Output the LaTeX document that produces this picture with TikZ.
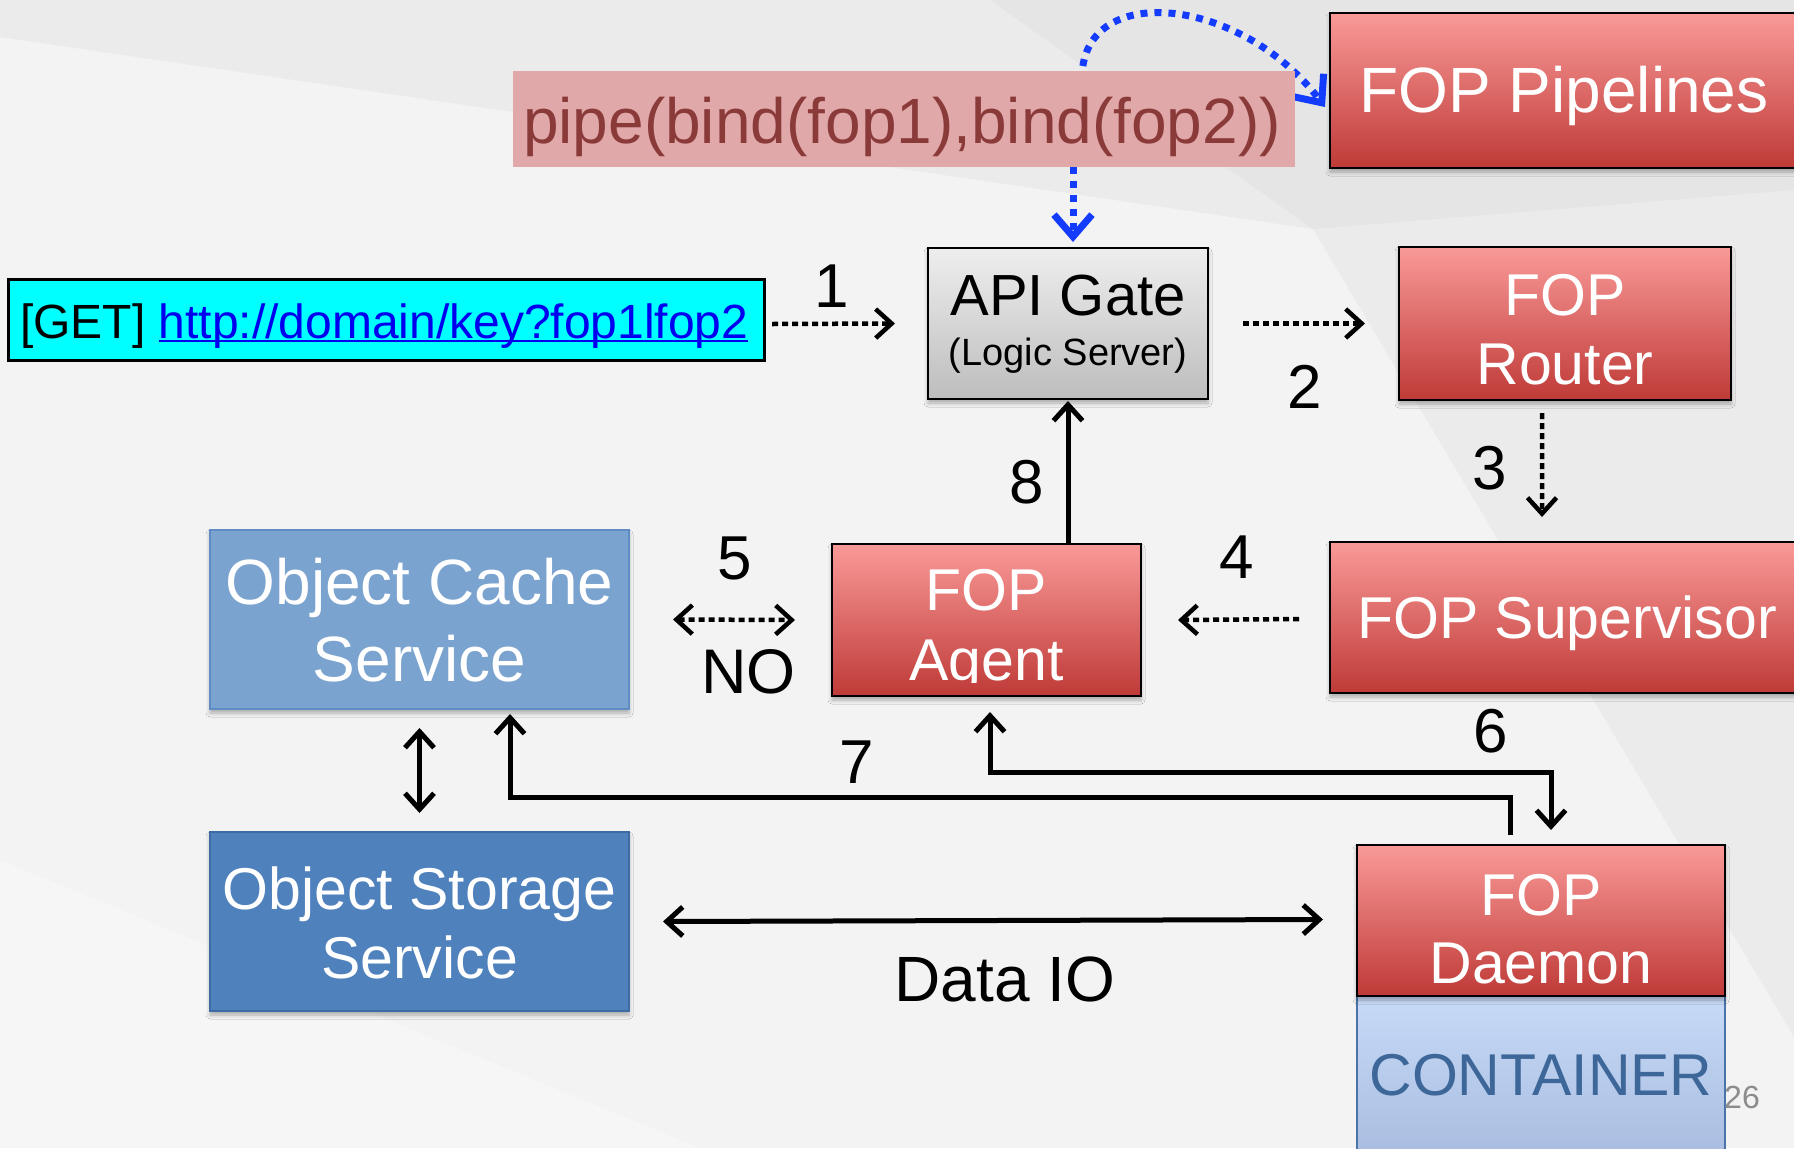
\documentclass[tikz,border=0pt]{standalone}
\usepackage{fontspec}
\setmainfont{Liberation Sans}
\usetikzlibrary{arrows.meta,shadows.blur,calc}

\definecolor{bgmid}{HTML}{F3F3F3}
\definecolor{bglight}{HTML}{F6F6F6}
\definecolor{bgdark}{HTML}{EBEBEB}
\definecolor{bgdeep}{HTML}{E5E5E5}
\definecolor{redtop}{HTML}{F99A98}
\definecolor{redbot}{HTML}{BF3A37}
\definecolor{graytop}{HTML}{EEEEEE}
\definecolor{graybot}{HTML}{BDBDBD}
\definecolor{cachefill}{HTML}{7BA3CF}
\definecolor{cacheline}{HTML}{5F8CC2}
\definecolor{storefill}{HTML}{4F81BD}
\definecolor{storeline}{HTML}{3E6BA2}
\definecolor{conttop}{HTML}{C7DAF7}
\definecolor{contbot}{HTML}{A7BBDF}
\definecolor{contline}{HTML}{4A74A9}
\definecolor{conttext}{HTML}{3E6799}
\definecolor{pipefill}{HTML}{E0A8A8}
\definecolor{pipetext}{HTML}{8B3A3A}
\definecolor{getfill}{HTML}{00FFFF}
\definecolor{linkblue}{HTML}{0000EE}
\definecolor{flowblue}{HTML}{143CFF}
\definecolor{pagenum}{HTML}{8C8C8C}

% font size in big points (1 unit of the picture = 1bp)
\newcommand\fsz[1]{\fontsize{#1bp}{#1bp}\selectfont}
% underline drawn just under the baseline, through the descenders
\newcommand\linkul[1]{\leavevmode\setbox0\hbox{#1}\rlap{\rule[-4bp]{\wd0}{2.2bp}}\box0}

\tikzset{
  chev/.tip={Straight Barb[length=16bp,width=29bp]},
  bchev/.tip={Straight Barb[length=22bp,width=38bp]},
  softshadow/.style={blur shadow={shadow xshift=0bp,shadow yshift=-4bp,
      shadow blur radius=4bp,shadow opacity=30}},
  box/.style={rectangle,inner sep=0pt,outer sep=0pt},
  redbox/.style={box,draw=black,line width=2.5bp,top color=redtop,
      bottom color=redbot,softshadow},
  graybox/.style={box,draw=black,line width=2.5bp,top color=graytop,
      bottom color=graybot,softshadow},
  cachebox/.style={box,draw=cacheline,line width=1.5bp,fill=cachefill,softshadow},
  storebox/.style={box,draw=storeline,line width=1.5bp,fill=storefill,softshadow},
  contbox/.style={box,draw=contline,line width=2.5bp,top color=conttop,
      bottom color=contbot},
  getbox/.style={box,draw=black,line width=3bp,fill=getfill},
  pinkbox/.style={box,fill=pipefill},
  txt/.style={inner sep=0pt,outer sep=0pt,anchor=base},
  wtxt/.style={txt,text=white},
  num/.style={txt,font=\fsz{62}},
  arr/.style={line width=5bp,-chev},
  dblarr/.style={line width=5bp,chev-chev},
  dotarr/.style={line width=4.5bp,dash pattern=on 6bp off 4bp,-chev},
  dotdbl/.style={line width=4.5bp,dash pattern=on 6bp off 4bp,chev-chev},
  bluearr/.style={flowblue,line width=7bp,dash pattern=on 7bp off 7bp,-bchev},
}

\begin{document}
\begin{tikzpicture}[x=1bp,y=-1bp]
\useasboundingbox (0,0) rectangle (1794,1148);
\clip (0,0) rectangle (1794,1148);

% slide backdrop
\fill[bgmid] (0,0) rectangle (1794,1148);
\fill[bglight] (0,860) -- (700,1148) -- (0,1148) -- cycle;
\fill[bgdark] (0,0) -- (1794,0) -- (1794,1037) -- (1313,229) -- (0,37) -- cycle;
\fill[bgdeep] (990,0) -- (1794,0) -- (1794,190) -- (1313,229) -- cycle;

% boxes
\node[redbox,minimum width=480bp,minimum height=155bp] (pipelines) at (1570,90.5) {};
\node[getbox,minimum width=755bp,minimum height=81bp] (get) at (386.5,319.5) {};
\node[graybox,minimum width=280bp,minimum height=151bp] (apigate) at (1068,323.5) {};
\node[redbox,minimum width=332bp,minimum height=153bp] (router) at (1565,323.5) {};
\node[redbox,minimum width=480bp,minimum height=151bp] (sup) at (1570,617.5) {};
\node[redbox,minimum width=309bp,minimum height=152bp] (agent) at (986.5,620) {};
\node[cachebox,minimum width=419bp,minimum height=179bp] (cache) at (419.5,619.5) {};
\node[storebox,minimum width=419bp,minimum height=179bp] (storage) at (419.5,921.5) {};
\node[contbox,minimum width=368bp,minimum height=169bp] (container) at (1541,1080.5) {};
\node[redbox,minimum width=368bp,minimum height=151bp] (daemon) at (1541,920.5) {};

% blue flow: the pipe expression goes to the pipelines (passing behind its box) and to the gate
\coordinate (arcstart) at (1082,80);
\draw[bluearr] (arcstart)
  .. controls (1080,-20) and (1240,-5) .. ([xshift=-5bp,yshift=-16.5bp]pipelines.west);
\node[pinkbox,minimum width=782bp,minimum height=96bp] (pipebox) at (904,119) {};
\draw[bluearr] ([xshift=5bp]apigate.north |- pipebox.south) -- ([xshift=5bp,yshift=6bp]apigate.north);

% box texts
\node[txt,text=pipetext,font=\fsz{64}] (pipetxt) at (902,143) {pipe(bind(fop1),bind(fop2))};
\node[wtxt,font=\fsz{64}] (pipelinestxt) at (1564,112) {FOP Pipelines};
\node[txt,anchor=base west,font=\fsz{48}] (gettxt) at (20,338)
  {[GET] \color{linkblue}\linkul{http://domain/key?fop1lfop2}};
\node[txt,font=\fsz{58}] (apitxt) at (1068,315) {API Gate};
\node[txt,font=\fsz{38}] (apisub) at (1068,365) {(Logic Server)};
\node[wtxt,font=\fsz{59}] (routera) at (1565,315) {FOP};
\node[wtxt,font=\fsz{59}] (routerb) at (1565,384) {Router};
\node[wtxt,font=\fsz{59}] (suptxt) at (1567,638) {FOP Supervisor};
\node[wtxt,font=\fsz{59}] (agenta) at (986.5,610) {FOP};
\begin{scope}
  \clip (840,600) rectangle (1130,682);
  \node[wtxt,font=\fsz{59}] (agentb) at (986.5,680) {Agent};
\end{scope}
\node[wtxt,font=\fsz{64}] (cachea) at (419.5,604) {Object Cache};
\node[wtxt,font=\fsz{64}] (cacheb) at (419.5,681) {Service};
\node[wtxt,font=\fsz{59}] (storea) at (419.5,909) {Object Storage};
\node[wtxt,font=\fsz{59}] (storeb) at (419.5,978) {Service};
\node[wtxt,font=\fsz{59}] (daemona) at (1541,915) {FOP};
\node[wtxt,font=\fsz{59}] (daemonb) at (1541,983) {Daemon};
\node[txt,text=conttext,font=\fsz{59}] (conttxt) at (1541,1095) {CONTAINER};
\node[txt,text=pagenum,font=\fsz{32}] (pagetxt) at (1742,1108) {26};

% connectors
\draw[dotarr] ([xshift=8bp,yshift=-4.5bp]get.east) -- ([xshift=-33bp]apigate.west);
\draw[dotarr] ([xshift=35bp]apigate.east) -- ([xshift=-34bp]router.west);
\draw[dotarr] ([xshift=-23bp,yshift=-13bp]router.south) -- ([xshift=-28bp,yshift=25bp]sup.north);
\draw[dotarr] ([xshift=-31bp,yshift=-1.5bp]sup.west) -- ([xshift=37bp]agent.east);
\draw[dotdbl] ([xshift=44bp]cache.east) -- ([xshift=-37bp]agent.west);
\draw[arr] (agent.north -| apigate.south) -- ([yshift=-2bp]apigate.south);
\draw[dblarr] ([yshift=-19bp]cache.south) -- ([yshift=19bp]storage.north);
\draw[dblarr] ([xshift=3.5bp,yshift=-16bp]agent.south)
  |- ([xshift=10bp,yshift=73bp]daemon.north) -- ([xshift=10bp,yshift=15bp]daemon.north);
\draw[arr] ([xshift=-31bp,yshift=10bp]daemon.north)
  |- ([xshift=90.5bp,yshift=-88bp]cache.south) -- ([xshift=90.5bp,yshift=-5bp]cache.south);
\draw[dblarr] ([xshift=34bp]storage.east) -- ([xshift=-34bp,yshift=1bp]daemon.west);

% step numbers and labels
\node[num] (n1) at (832,307) {1};
\node[num] (n2) at (1305,408) {2};
\node[num] (n3) at (1490,489) {3};
\node[num] (n4) at (1237,578) {4};
\node[num] (n5) at (735,579) {5};
\node[num] (n6) at (1491,752) {6};
\node[num] (n7) at (857,783) {7};
\node[num] (n8) at (1027,503) {8};
\node[txt,font=\fsz{63}] (no) at (748.5,693) {NO};
\node[txt,font=\fsz{64}] (dataio) at (1005,1001) {Data IO};
\end{tikzpicture}
\end{document}
